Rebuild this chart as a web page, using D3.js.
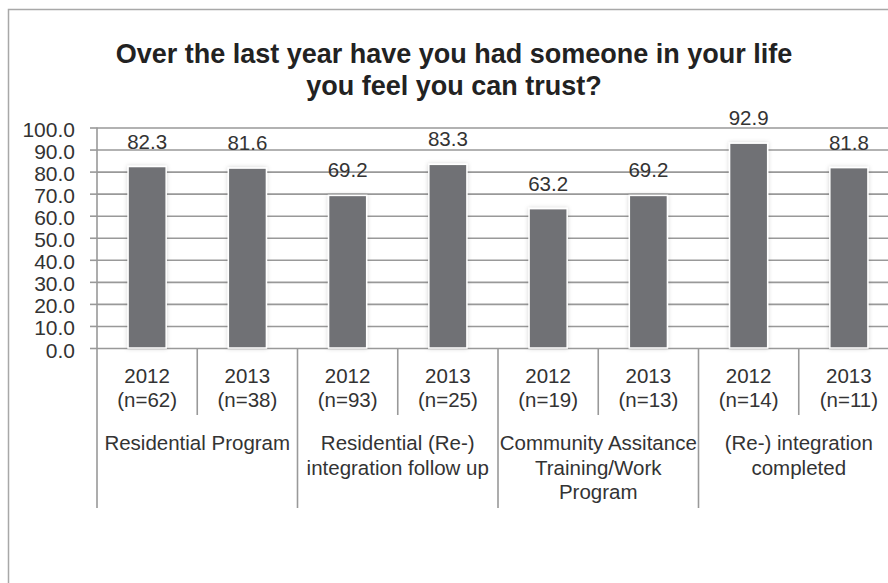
<!DOCTYPE html>
<html>
<head>
<meta charset="utf-8">
<script src="https://cdn.jsdelivr.net/npm/d3@7"></script>
<style>
  html, body { margin: 0; padding: 0; background: #fff; }
  svg { display: block; }
  text { font-family: "Liberation Sans", Arial, Helvetica, sans-serif; fill: #333; }
</style>
</head>
<body>
<script>
// Share of respondents who had someone they could trust, by program and year
const years = ["2012", "2013", "2012", "2013", "2012", "2013", "2012", "2013"];
const sampleSizes = ["(n=62)", "(n=38)", "(n=93)", "(n=25)", "(n=19)", "(n=13)", "(n=14)", "(n=11)"];
const values = [82.3, 81.6, 69.2, 83.3, 63.2, 69.2, 92.9, 81.8];
const programs = [
  ["Residential Program"],
  ["Residential (Re-)", "integration follow up"],
  ["Community Assitance", "Training/Work", "Program"],
  ["(Re-) integration", "completed"]
];
const yTicks = [0, 10, 20, 30, 40, 50, 60, 70, 80, 90, 100];
const titleLines = ["Over the last year have you had someone in your life", "you feel you can trust?"];

const W = 888, H = 583;
const plotLeft = 97, plotRight = 899, plotTop = 127.5, plotBottom = 348;
const gridColor = "#999";

const svg = d3.select("body").append("svg").attr("width", W).attr("height", H);

// soft halo around the columns
const defs = svg.append("defs");
const halo = defs.append("filter").attr("id", "halo")
  .attr("x", "-30%").attr("y", "-10%").attr("width", "160%").attr("height", "120%");
halo.append("feDropShadow").attr("dx", 0).attr("dy", 0).attr("stdDeviation", 2)
  .attr("flood-color", "#000").attr("flood-opacity", 0.18);

// chart frame
svg.append("rect")
  .attr("x", 8.5).attr("y", 9.5).attr("width", 892).attr("height", 600)
  .attr("fill", "none").attr("stroke", "#a8a8a8").attr("stroke-width", 1.5);

// title
svg.append("text")
  .attr("x", 454).attr("text-anchor", "middle")
  .style("font-weight", "bold").style("font-size", "27px").style("fill", "#222")
  .selectAll("tspan").data(titleLines).join("tspan")
  .attr("x", 454).attr("y", (d, i) => 63 + i * 32).text(d => d);

const idx = d3.range(values.length);
const xCat = d3.scaleBand().domain(idx).range([plotLeft, plotRight]).padding(0);
const xBar = d3.scaleBand().domain(idx).range([plotLeft, plotRight]).paddingInner(0.62).paddingOuter(0.31);
const y = d3.scaleLinear().domain([0, 100]).range([plotBottom, plotTop]);

// horizontal gridlines
svg.append("g")
  .attr("transform", `translate(${plotLeft},0)`)
  .call(d3.axisLeft(y).tickValues(yTicks).tickSize(-(plotRight - plotLeft)).tickFormat(""))
  .call(g => g.select(".domain").remove())
  .call(g => g.selectAll("line").attr("stroke", gridColor).attr("stroke-width", 1.6));

// value axis with outside tick marks and labels
svg.append("g")
  .attr("transform", `translate(${plotLeft},0)`)
  .call(d3.axisLeft(y).tickValues(yTicks).tickSize(7).tickPadding(15).tickFormat(d3.format(".1f")))
  .call(g => g.select(".domain").remove())
  .call(g => g.selectAll("line").attr("stroke", gridColor).attr("stroke-width", 1.6))
  .call(g => g.selectAll("text")
    .attr("dy", null).attr("y", 9)
    .style("font-size", "21px").style("font-family", "'Liberation Sans', Arial, sans-serif")
    .attr("fill", "#333"));

// bars
svg.append("g").selectAll("rect").data(idx).join("rect")
  .attr("x", i => xBar(i))
  .attr("y", i => y(values[i]))
  .attr("width", xBar.bandwidth())
  .attr("height", i => y(0) - y(values[i]))
  .attr("fill", "#707175")
  .attr("stroke", "#ffffff").attr("stroke-width", 1.5)
  .attr("filter", "url(#halo)");

// value labels
svg.append("g").selectAll("text").data(idx).join("text")
  .attr("x", i => xBar(i) + xBar.bandwidth() / 2)
  .attr("y", i => y(values[i]) - 18)
  .attr("text-anchor", "middle")
  .style("font-size", "20.5px")
  .text(i => values[i].toFixed(1));

// category table: vertical axis line and dividers
const catAxis = svg.append("g").attr("stroke", gridColor).attr("stroke-width", 1.6);
catAxis.append("line").attr("x1", plotLeft).attr("x2", plotLeft).attr("y1", plotTop).attr("y2", 508);
catAxis.selectAll("line.year").data(idx.filter(i => i % 2 === 1)).join("line")
  .attr("class", "year")
  .attr("x1", i => xCat(i)).attr("x2", i => xCat(i)).attr("y1", plotBottom).attr("y2", 415);
catAxis.selectAll("line.group").data(d3.range(1, programs.length + 1)).join("line")
  .attr("class", "group")
  .attr("x1", k => xCat(k * 2) ?? plotRight).attr("x2", k => xCat(k * 2) ?? plotRight)
  .attr("y1", plotBottom).attr("y2", 508);

// year and sample size labels
const yearLbl = svg.append("g").selectAll("text").data(idx).join("text")
  .attr("text-anchor", "middle").style("font-size", "20.5px");
yearLbl.append("tspan").attr("x", i => xCat(i) + xCat.bandwidth() / 2).attr("y", 383).text(i => years[i]);
yearLbl.append("tspan").attr("x", i => xCat(i) + xCat.bandwidth() / 2).attr("y", 407).text(i => sampleSizes[i]);

// program labels
svg.append("g").selectAll("text").data(programs).join("text")
  .attr("text-anchor", "middle").style("font-size", "20.5px")
  .each(function (lines, k) {
    const cx = xCat(k * 2) + xCat.bandwidth();
    d3.select(this).selectAll("tspan").data(lines).join("tspan")
      .attr("x", cx).attr("y", (d, j) => 450 + j * 24.5).text(d => d);
  });
</script>
</body>
</html>
